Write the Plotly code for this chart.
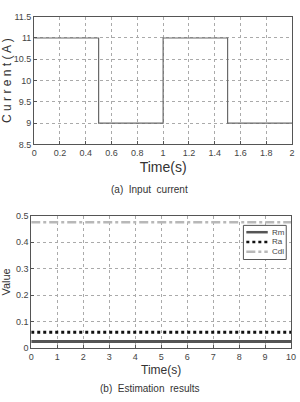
import plotly.graph_objects as go

# Top chart: input current (step waveform)
t_current = [0, 0.5, 0.5, 1.0, 1.0, 1.5, 1.5, 2.0]
current = [11, 11, 9, 9, 11, 11, 9, 9]

# Bottom chart: estimation results
t_est = [0, 10]
rm = [0.025, 0.025]
ra = [0.06, 0.06]
cdl = [0.475, 0.475]
series_names = ["Rm", "Ra", "Cdl"]

top_xticks = [0, 0.2, 0.4, 0.6, 0.8, 1, 1.2, 1.4, 1.6, 1.8, 2]
top_yticks = [8.5, 9, 9.5, 10, 10.5, 11, 11.5]
bot_xticks = list(range(0, 11))
bot_yticks = [0, 0.1, 0.2, 0.3, 0.4, 0.5]

styles = [
    dict(color="#555555", width=3),
    dict(color="#111111", width=3, dash="dot"),
    dict(color="#b8b8b8", width=2.5, dash="dashdot"),
]

fig = go.Figure()
fig.add_trace(go.Scatter(x=t_current, y=current, mode="lines",
                         line=dict(color="#6a6a6a", width=1.2),
                         xaxis="x", yaxis="y", showlegend=False))
for name, vals, st in zip(series_names, [rm, ra, cdl], styles):
    fig.add_trace(go.Scatter(x=t_est, y=vals, mode="lines", name=name,
                             line=st, xaxis="x2", yaxis="y2", showlegend=False))

axis_common = dict(showline=True, linecolor="#555555", linewidth=1, mirror=True,
                   showgrid=True, gridcolor="#aaaaaa", griddash="dot", gridwidth=1,
                   ticks="inside", ticklen=3, tickcolor="#555555",
                   zeroline=False, tickfont=dict(size=9, color="#444444"))

W, H = 300, 402
def px(x):
    return x / W
def py(y):
    return 1 - y / H

# Compact legend box (drawn in paper coordinates)
shapes = [dict(type="rect", xref="paper", yref="paper",
               x0=px(247), x1=px(291), y0=py(261), y1=py(226),
               line=dict(color="#555555", width=1), fillcolor="white", layer="above")]
annotations = [
    dict(text="(a)  Input  current", x=px(150), y=py(189), xref="paper", yref="paper",
         showarrow=False, font=dict(size=10, color="#333333"), xanchor="center", yanchor="middle"),
    dict(text="(b)  Estimation  results", x=px(150), y=py(393), xref="paper", yref="paper",
         showarrow=False, font=dict(size=10, color="#333333"), xanchor="center", yanchor="middle"),
]
for i, (name, st) in enumerate(zip(series_names, styles)):
    yy = 233 + i * 10
    shapes.append(dict(type="line", xref="paper", yref="paper",
                       x0=px(250), x1=px(272), y0=py(yy), y1=py(yy),
                       line=dict(color=st["color"], width=min(st["width"], 2.5),
                                 dash=st.get("dash", "solid")), layer="above"))
    annotations.append(dict(text=name, x=px(274), y=py(yy), xref="paper", yref="paper",
                            showarrow=False, xanchor="left", yanchor="middle",
                            font=dict(size=8, color="#444444")))

fig.update_layout(
    width=W, height=H,
    margin=dict(l=0, r=0, t=0, b=0),
    paper_bgcolor="white", plot_bgcolor="white",
    font=dict(family="Liberation Sans, Arial, sans-serif", color="#333333"),
    showlegend=False,
    xaxis=dict(domain=[px(32), px(297)], range=[0, 2], tickvals=top_xticks,
               ticktext=[str(v) for v in top_xticks], anchor="y",
               title=dict(text="Time(s)", font=dict(size=14), standoff=4), **axis_common),
    yaxis=dict(domain=[py(143), py(12)], range=[8.5, 11.5], tickvals=top_yticks,
               ticktext=[str(v) for v in top_yticks], anchor="x",
               title=dict(text="C u r r e n t ( A )", font=dict(size=12), standoff=2), **axis_common),
    xaxis2=dict(domain=[px(29), px(296)], range=[0, 10], tickvals=bot_xticks, anchor="y2",
                title=dict(text="Time(s)", font=dict(size=12), standoff=4), **axis_common),
    yaxis2=dict(domain=[py(352), py(216)], range=[0, 0.5], tickvals=bot_yticks,
                ticktext=["0", "0.1", "0.2", "0.3", "0.4", "0.5"], anchor="x2",
                title=dict(text="Value", font=dict(size=11), standoff=4), **axis_common),
    shapes=shapes,
    annotations=annotations,
)

fig.write_html("out.html")
